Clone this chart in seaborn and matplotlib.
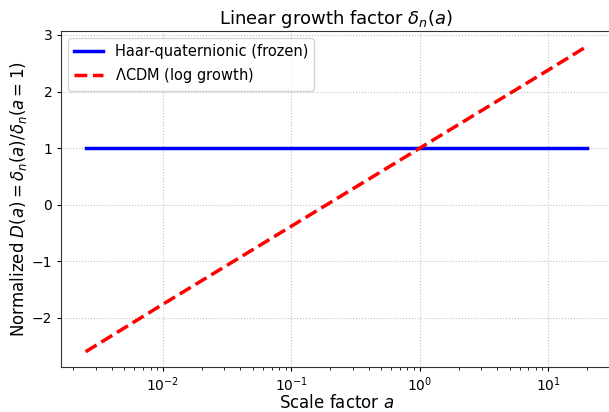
import matplotlib
matplotlib.use("Agg")
import matplotlib.pyplot as plt
import seaborn as sns
import pandas as pd

a_frozen = [0.0025, 20.0]
d_frozen = [1.0, 1.0]
a_lcdm = [0.0025, 0.01, 0.1, 1.0, 10.0, 20.0]
d_lcdm = [-2.6, -1.76, -0.38, 1.0, 2.38, 2.8]

fig = plt.figure(figsize=(6.09, 4.12), dpi=100)
ax = fig.add_axes([60.6 / 609, 45 / 412, 551.4 / 609, 336 / 412])

df1 = pd.DataFrame({"a": a_frozen, "D": d_frozen})
df2 = pd.DataFrame({"a": a_lcdm, "D": d_lcdm})
sns.lineplot(data=df1, x="a", y="D", ax=ax, color="blue", linewidth=2.5,
             label="Haar-quaternionic (frozen)")
sns.lineplot(data=df2, x="a", y="D", ax=ax, color="red", linewidth=2.5,
             linestyle="--", label=r"$\Lambda$CDM (log growth)")
ax.set_xscale("log")
ax.set_xlim(10 ** -2.797, 10 ** 1.496)
ax.set_ylim(-2.87, 3.07)
ax.grid(True, which="major", linestyle=":", color="#b0b0b0", alpha=0.8)
ax.set_xlabel(r"Scale factor $a$", fontsize=12, labelpad=0)
ax.set_ylabel(r"Normalized $D(a) = \delta_n(a)/\delta_n(a=1)$", fontsize=12, labelpad=2)
ax.set_title(r"Linear growth factor $\delta_n(a)$", fontsize=13, pad=5)
ax.tick_params(labelsize=10, length=3, pad=3)
ax.tick_params(which="minor", length=2)
for s in ax.spines.values():
    s.set_color("#333333")
ax.legend(loc="upper left", fontsize=10.5)
fig.savefig("out.png", dpi=100)
